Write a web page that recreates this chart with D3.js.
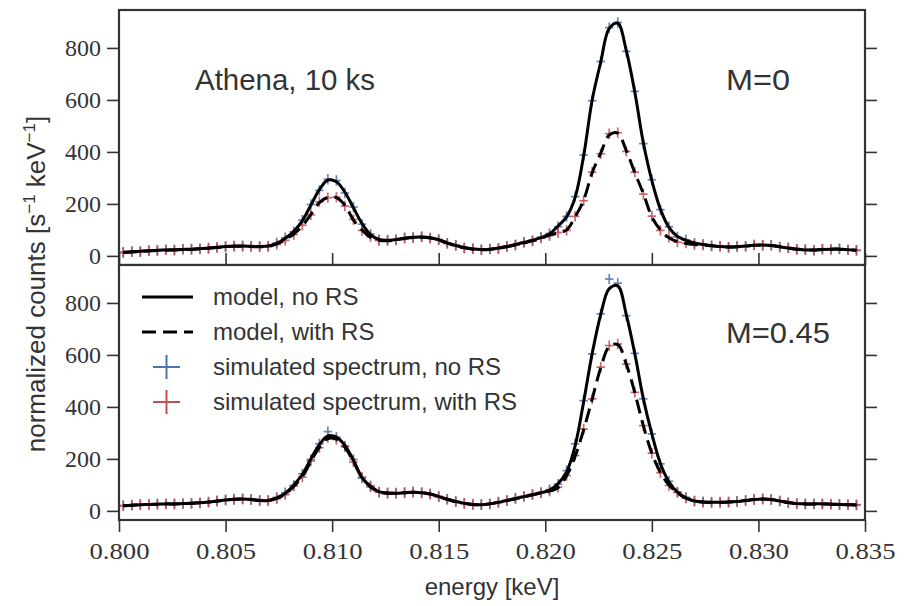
<!DOCTYPE html>
<html><head><meta charset="utf-8">
<script src="https://cdn.jsdelivr.net/npm/d3@7"></script>
<style>body{margin:0;background:#fff;} svg{display:block;}</style>
</head><body>
<svg id="chart" width="906" height="606"></svg>
<script>
// ---------------- data ----------------
const energy = [
 0.8002,0.8006,0.8010,0.8014,0.8018,0.8022,0.8026,0.8030,0.8034,0.8038,
 0.8042,0.8046,0.8050,0.8054,0.8058,0.8062,0.8066,0.8070,0.8074,0.8078,
 0.8082,0.8086,0.8090,0.8094,0.8098,0.8102,0.8106,0.8110,0.8114,0.8118,
 0.8122,0.8126,0.8130,0.8134,0.8138,0.8142,0.8146,0.8150,0.8154,0.8158,
 0.8162,0.8166,0.8170,0.8174,0.8178,0.8182,0.8186,0.8190,0.8194,0.8198,
 0.8202,0.8206,0.8210,0.8214,0.8218,0.8222,0.8226,0.8230,0.8234,0.8238,
 0.8242,0.8246,0.8250,0.8254,0.8258,0.8262,0.8266,0.8270,0.8274,0.8278,
 0.8282,0.8286,0.8290,0.8294,0.8298,0.8302,0.8306,0.8310,0.8314,0.8318,
 0.8322,0.8326,0.8330,0.8334,0.8338,0.8342,0.8346];

// Panel 1: M=0
const topModelNoRS = [
 14,16,18,20,22,23,24,25,26,28, 30,33,36,38,38,37,36,38,48,
 68,95,135,195,255,292,285,245,185,125,82,63,
 60,63,68,72,73,70,62,50,40,32,27,25,26,30,36,44,52,60,70,
 85,115,150,225,385,600,745,875,895,790,630,435,290,180,110,75,
 60,50,44,40,36,34,35,38,41,42,40,35,30,26,23,23,25,26,26,24,22];
const topModelRS = [
 13,15,17,19,21,22,23,24,25,27, 29,32,35,37,37,36,35,37,46,
 62,85,115,160,205,225,224,195,138,100,72,60,
 58,62,67,71,72,69,61,49,39,31,26,24,25,29,35,42,50,58,68,
 80,88,100,150,215,320,395,465,472,405,320,240,150,100,70,55,
 48,44,41,39,36,34,35,38,41,42,40,35,30,26,23,23,25,26,26,24,22];
const topSimNoRS = [
 15,17,17,21,22,24,23,26,27,27, 31,33,37,37,39,36,37,38,50,
 70,93,138,198,252,295,290,242,188,122,84,62,
 61,62,70,71,74,69,63,49,41,31,28,24,27,29,37,43,53,59,72,
 86,112,152,228,388,597,748,878,898,787,633,432,293,178,112,73,
 62,49,45,39,37,33,36,37,42,41,41,34,31,25,24,22,26,25,27,23,22];
const topSimRS = [
 12,16,16,20,20,23,22,25,24,28, 28,33,34,38,36,37,34,36,44,
 60,82,118,158,208,224,226,192,140,98,74,59,
 59,61,68,70,73,68,62,48,40,30,27,23,26,28,36,41,51,57,69,
 78,90,98,152,212,322,393,470,474,402,322,238,153,98,72,53,
 49,43,42,38,37,33,36,37,42,41,41,34,31,25,24,22,26,25,27,23,21];

// Panel 2: M=0.45
const botModelNoRS = [
 20,22,24,25,26,27,27,28,29,31, 34,38,42,45,46,44,40,40,50,
 68,100,140,200,255,288,284,252,195,128,95,74,
 69,68,70,72,70,65,55,45,36,29,25,24,27,33,40,47,55,62,70,
 80,105,150,250,420,605,755,855,866,755,605,432,296,182,112,72,
 50,38,34,33,33,34,36,40,44,46,44,38,32,28,27,27,27,26,25,24,23];
const botModelRS = [
 20,22,24,25,26,27,27,28,29,31, 34,38,42,45,46,44,40,40,48,
 64,95,132,190,245,278,276,245,190,128,93,72,
 68,68,70,72,70,65,55,45,36,29,25,24,27,33,40,47,55,62,70,
 76,90,135,210,312,430,550,632,640,565,455,328,222,148,100,70,
 49,38,34,33,33,34,36,40,44,46,44,38,32,28,27,27,27,26,25,24,23];
const botSimNoRS = [
 21,21,25,24,27,26,28,27,30,30, 35,37,43,44,47,43,41,39,52,
 70,98,143,198,258,305,284,250,198,126,97,72,
 70,67,71,73,69,66,54,46,35,30,24,25,26,34,39,49,55,64,71,
 82,103,155,258,424,604,758,892,876,751,606,431,296,181,114,73,
 52,37,35,32,34,33,37,39,45,45,45,37,33,27,28,26,28,25,26,23,24];
const botSimRS = [
 19,23,23,26,25,28,26,29,28,32, 33,39,41,46,45,45,39,41,47,
 62,96,130,192,243,282,275,247,188,130,92,73,
 67,69,69,73,71,64,56,44,37,28,26,23,28,32,41,47,57,62,69,
 76,91,136,213,315,431,553,636,642,565,456,328,222,147,98,71,
 49,39,33,34,32,35,35,41,43,47,43,39,31,29,26,28,26,27,24,25,22];

const yErr = 20;            // counts, symmetric
const binHalfWidth = 0.0002; // keV
const xTicks = [0.800,0.805,0.810,0.815,0.820,0.825,0.830,0.835];
const yTicks = [0,200,400,600,800];
const legendLabels = ["model, no RS","model, with RS","simulated spectrum, no RS","simulated spectrum, with RS"];

// ---------------- drawing ----------------
const BLUE = "#4c72b0", RED = "#c44e52", INK = "#333333";
const SANS = "'Liberation Sans', Arial, sans-serif";
const SERIF = "'Liberation Serif', 'DejaVu Serif', serif";
const svg = d3.select("#chart");
svg.append("rect").attr("width",906).attr("height",606).attr("fill","#fff");

const L = 119, R = 865;
const x = d3.scaleLinear().domain([0.800,0.835]).range([L,R]);
const yDomain = [-35, 946];

function drawPanel(top, bottom, s, isBottom, idx) {
  const y = d3.scaleLinear().domain(yDomain).range([bottom, top]);
  const g = svg.append("g");
  g.append("rect").attr("x",L).attr("y",top).attr("width",R-L).attr("height",bottom-top).attr("fill","#fff");
  const clipId = "clip"+idx;
  svg.append("clipPath").attr("id",clipId).append("rect")
    .attr("x",L).attr("y",top).attr("width",R-L).attr("height",bottom-top);
  const plot = g.append("g").attr("clip-path",`url(#${clipId})`);

  [[s.simNo, BLUE],[s.simRS, RED]].forEach(([vals,col]) => {
    const eb = plot.append("g").attr("stroke",col).attr("stroke-width",1.7).attr("stroke-opacity",0.85);
    eb.selectAll("line.h").data(energy).join("line").attr("class","h")
      .attr("x1",d=>x(d-binHalfWidth)).attr("x2",d=>x(d+binHalfWidth))
      .attr("y1",(d,i)=>y(vals[i])).attr("y2",(d,i)=>y(vals[i]));
    eb.selectAll("line.v").data(energy).join("line").attr("class","v")
      .attr("x1",d=>x(d)).attr("x2",d=>x(d))
      .attr("y1",(d,i)=>y(vals[i]-yErr)).attr("y2",(d,i)=>y(vals[i]+yErr));
  });

  const line = d3.line().x((d,i)=>x(energy[i])).y(d=>y(d)).curve(d3.curveCatmullRom.alpha(0.5));
  plot.append("path").attr("d",line(s.modelNo)).attr("fill","none").attr("stroke","#000").attr("stroke-width",3);
  plot.append("path").attr("d",line(s.modelRS)).attr("fill","none").attr("stroke","#000").attr("stroke-width",3)
    .attr("stroke-dasharray","14,7");

  // axes
  g.append("g").attr("class","yaxis").attr("transform",`translate(${L},0)`)
    .call(d3.axisLeft(y).tickValues(yTicks).tickSize(12).tickPadding(6).tickFormat(d3.format("d")));
  g.append("g").attr("transform",`translate(${R},0)`)
    .call(d3.axisRight(y).tickValues(yTicks).tickSize(12).tickFormat(""));
  if (isBottom) {
    g.append("g").attr("transform",`translate(0,${top})`)
      .call(d3.axisTop(x).tickValues(xTicks).tickSize(12).tickFormat(""));
    g.append("g").attr("class","xaxis").attr("transform",`translate(0,${bottom})`)
      .call(d3.axisBottom(x).tickValues(xTicks).tickSize(12).tickPadding(10).tickFormat(d3.format(".3f")));
  }
  g.selectAll(".domain").remove();
  g.selectAll(".tick line").attr("stroke",INK).attr("stroke-width",1.6);
  g.selectAll("g[fill]").attr("font-family",null).attr("font-size",null);
  g.selectAll(".tick text").attr("fill",INK).style("font-family",SERIF).style("font-size","24px");
  g.append("rect").attr("x",L).attr("y",top).attr("width",R-L).attr("height",bottom-top)
    .attr("fill","none").attr("stroke",INK).attr("stroke-width",2.2);
  return {g, y};
}

const p1 = drawPanel(10, 265, {modelNo:topModelNoRS, modelRS:topModelRS, simNo:topSimNoRS, simRS:topSimRS}, false, 1);
const p2 = drawPanel(265, 520, {modelNo:botModelNoRS, modelRS:botModelRS, simNo:botSimNoRS, simRS:botSimRS}, true, 2);
p2.g.selectAll(".xaxis .tick text").attr("textLength",60).attr("lengthAdjust","spacingAndGlyphs");

// annotations
svg.append("text").attr("x",195).attr("y",90).attr("font-family",SANS).attr("font-size",30).attr("fill",INK)
  .attr("textLength",180).attr("lengthAdjust","spacingAndGlyphs").text("Athena, 10 ks");
svg.append("text").attr("x",726).attr("y",90).attr("font-family",SANS).attr("font-size",30).attr("fill",INK)
  .attr("textLength",64).attr("lengthAdjust","spacingAndGlyphs").text("M=0");
svg.append("text").attr("x",726).attr("y",343).attr("font-family",SANS).attr("font-size",30).attr("fill",INK)
  .attr("textLength",104).attr("lengthAdjust","spacingAndGlyphs").text("M=0.45");

// axis labels
svg.append("text").attr("x",492).attr("y",595).attr("text-anchor","middle").attr("font-family",SANS)
  .attr("font-size",24).attr("fill",INK).text("energy [keV]");
const yl = svg.append("text").attr("transform","translate(45,284) rotate(-90)").attr("text-anchor","middle")
  .attr("font-family",SANS).attr("font-size",26).attr("fill",INK);
yl.append("tspan").text("normalized counts [s");
yl.append("tspan").attr("font-size",17).attr("dy",-10).text("\u22121");
yl.append("tspan").attr("dy",10).text(" keV");
yl.append("tspan").attr("font-size",17).attr("dy",-10).text("\u22121");
yl.append("tspan").attr("dy",10).text("]");

// legend
const lg = svg.append("g");
const ly = [297, 332, 367, 402];
lg.append("line").attr("x1",142).attr("x2",193).attr("y1",ly[0]).attr("y2",ly[0]).attr("stroke","#000").attr("stroke-width",3);
lg.append("line").attr("x1",142).attr("x2",193).attr("y1",ly[1]).attr("y2",ly[1]).attr("stroke","#000").attr("stroke-width",3).attr("stroke-dasharray","14,7");
[[BLUE,ly[2]],[RED,ly[3]]].forEach(([c,yy])=>{
  lg.append("line").attr("x1",153).attr("x2",180).attr("y1",yy).attr("y2",yy).attr("stroke",c).attr("stroke-width",2);
  lg.append("line").attr("x1",166.5).attr("x2",166.5).attr("y1",yy-12).attr("y2",yy+12).attr("stroke",c).attr("stroke-width",2);
});
lg.selectAll("text").data(legendLabels).join("text")
  .attr("x",213).attr("y",(d,i)=>ly[i]+8).attr("font-family",SANS).attr("font-size",24).attr("fill",INK).text(d=>d);
</script>
</body></html>
